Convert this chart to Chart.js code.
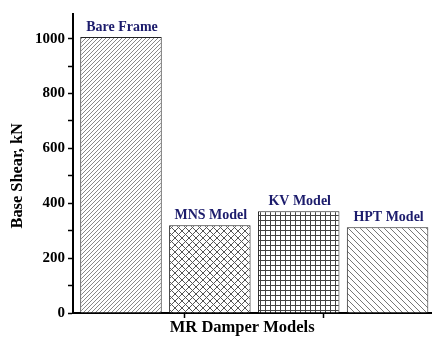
<!DOCTYPE html>
<html>
<head>
<meta charset="utf-8">
<script src="https://cdn.jsdelivr.net/npm/chart.js@4/dist/chart.umd.min.js"></script>
<style>
  html, body { margin: 0; padding: 0; background: #fff; }
</style>
</head>
<body>
<canvas id="shearChart" width="432" height="342"></canvas>
<script>
const models = ['Bare Frame', 'MNS Model', 'KV Model', 'HPT Model'];
const baseShear = [1006, 320, 371, 313];
const shearTicks = [0, 200, 400, 600, 800, 1000];
const minorTicks = [100, 300, 500, 700, 900];
const xTickMarks = [0.71, 2.28];

const serif = '"Liberation Serif", "Times New Roman", serif';

// small tiles used as hatch fills
function makeTile(size, color, draw) {
    const c = document.createElement('canvas');
    c.width = size;
    c.height = size;
    const g = c.getContext('2d');
    g.fillStyle = '#fff';
    g.fillRect(0, 0, size, size);
    g.strokeStyle = color;
    g.lineWidth = 1;
    draw(g, size);
    return c;
}

const forwardLines = (g, s) => {
    g.beginPath();
    g.moveTo(-1, s + 1); g.lineTo(s + 1, -1);
    g.moveTo(-1, 1); g.lineTo(1, -1);
    g.moveTo(s - 1, s + 1); g.lineTo(s + 1, s - 1);
    g.stroke();
};
const backLines = (g, s) => {
    g.beginPath();
    g.moveTo(-1, -1); g.lineTo(s + 1, s + 1);
    g.moveTo(s - 1, -1); g.lineTo(s + 1, 1);
    g.moveTo(-1, s - 1); g.lineTo(1, s + 1);
    g.stroke();
};
const crossLines = (g, s) => { forwardLines(g, s); backLines(g, s); };
const gridLines = (g, s) => {
    g.beginPath();
    g.moveTo(0.5, 0); g.lineTo(0.5, s);
    g.moveTo(0, 0.5); g.lineTo(s, 0.5);
    g.stroke();
};

const ctx = document.getElementById('shearChart').getContext('2d');
const fills = [
    ctx.createPattern(makeTile(4, '#888', forwardLines), 'repeat'),
    ctx.createPattern(makeTile(7, '#555', crossLines), 'repeat'),
    ctx.createPattern(makeTile(5, '#444', gridLines), 'repeat'),
    ctx.createPattern(makeTile(6, '#777', backLines), 'repeat')
];

// model names written above each bar
const barLabels = {
    id: 'barLabels',
    afterDatasetsDraw(chart) {
        const c = chart.ctx;
        const meta = chart.getDatasetMeta(0);
        c.save();
        c.font = 'bold 14px ' + serif;
        c.fillStyle = '#1c1c6c';
        c.textAlign = 'center';
        c.textBaseline = 'alphabetic';
        meta.data.forEach((bar, i) => c.fillText(models[i], bar.x + 1, bar.y - 6));
        c.restore();
    }
};

new Chart(ctx, {
    type: 'bar',
    data: {
        datasets: [{
            data: baseShear.map((v, i) => ({ x: i, y: v })),
            backgroundColor: fills,
            borderColor: '#222',
            borderWidth: 1,
            categoryPercentage: 1,
            barPercentage: 0.917
        }]
    },
    options: {
        responsive: false,
        animation: false,
        devicePixelRatio: 1,
        layout: { padding: { top: 14, left: 0, right: 0, bottom: 0 } },
        plugins: {
            legend: { display: false },
            tooltip: { enabled: false }
        },
        scales: {
            x: {
                type: 'linear',
                min: -0.54,
                max: 3.5,
                offset: false,
                afterBuildTicks: s => { s.ticks = xTickMarks.map(v => ({ value: v })); },
                afterFit: s => { s.height = 29; },
                ticks: { display: false },
                grid: { offset: false, drawOnChartArea: false, tickLength: 5, tickColor: '#000', tickWidth: 1.5 },
                border: { color: '#000', width: 2 },
                title: {
                    display: true,
                    text: 'MR Damper Models     ',
                    color: '#000',
                    font: { family: serif, size: 16.5, weight: 'bold' },
                    padding: { top: 0, bottom: 4 }
                }
            },
            y: {
                min: 0,
                max: 1090,
                afterBuildTicks: s => {
                    s.ticks = shearTicks.concat(minorTicks).sort((a, b) => a - b).map(v => ({ value: v }));
                },
                afterFit: s => { s.width = 73; },
                ticks: {
                    color: '#000',
                    padding: 3,
                    font: { family: serif, size: 15, weight: 'bold' },
                    callback: v => shearTicks.includes(v) ? String(v) : ''
                },
                grid: { drawOnChartArea: false, tickLength: 5, tickColor: '#000', tickWidth: 1.5 },
                border: { color: '#000', width: 2 },
                title: {
                    display: true,
                    text: 'Base Shear, kN      ',
                    color: '#000',
                    font: { family: serif, size: 16.4, weight: 'bold' },
                    padding: { top: 7.7, bottom: 0 }
                }
            }
        }
    },
    plugins: [barLabels]
});
</script>
</body>
</html>
